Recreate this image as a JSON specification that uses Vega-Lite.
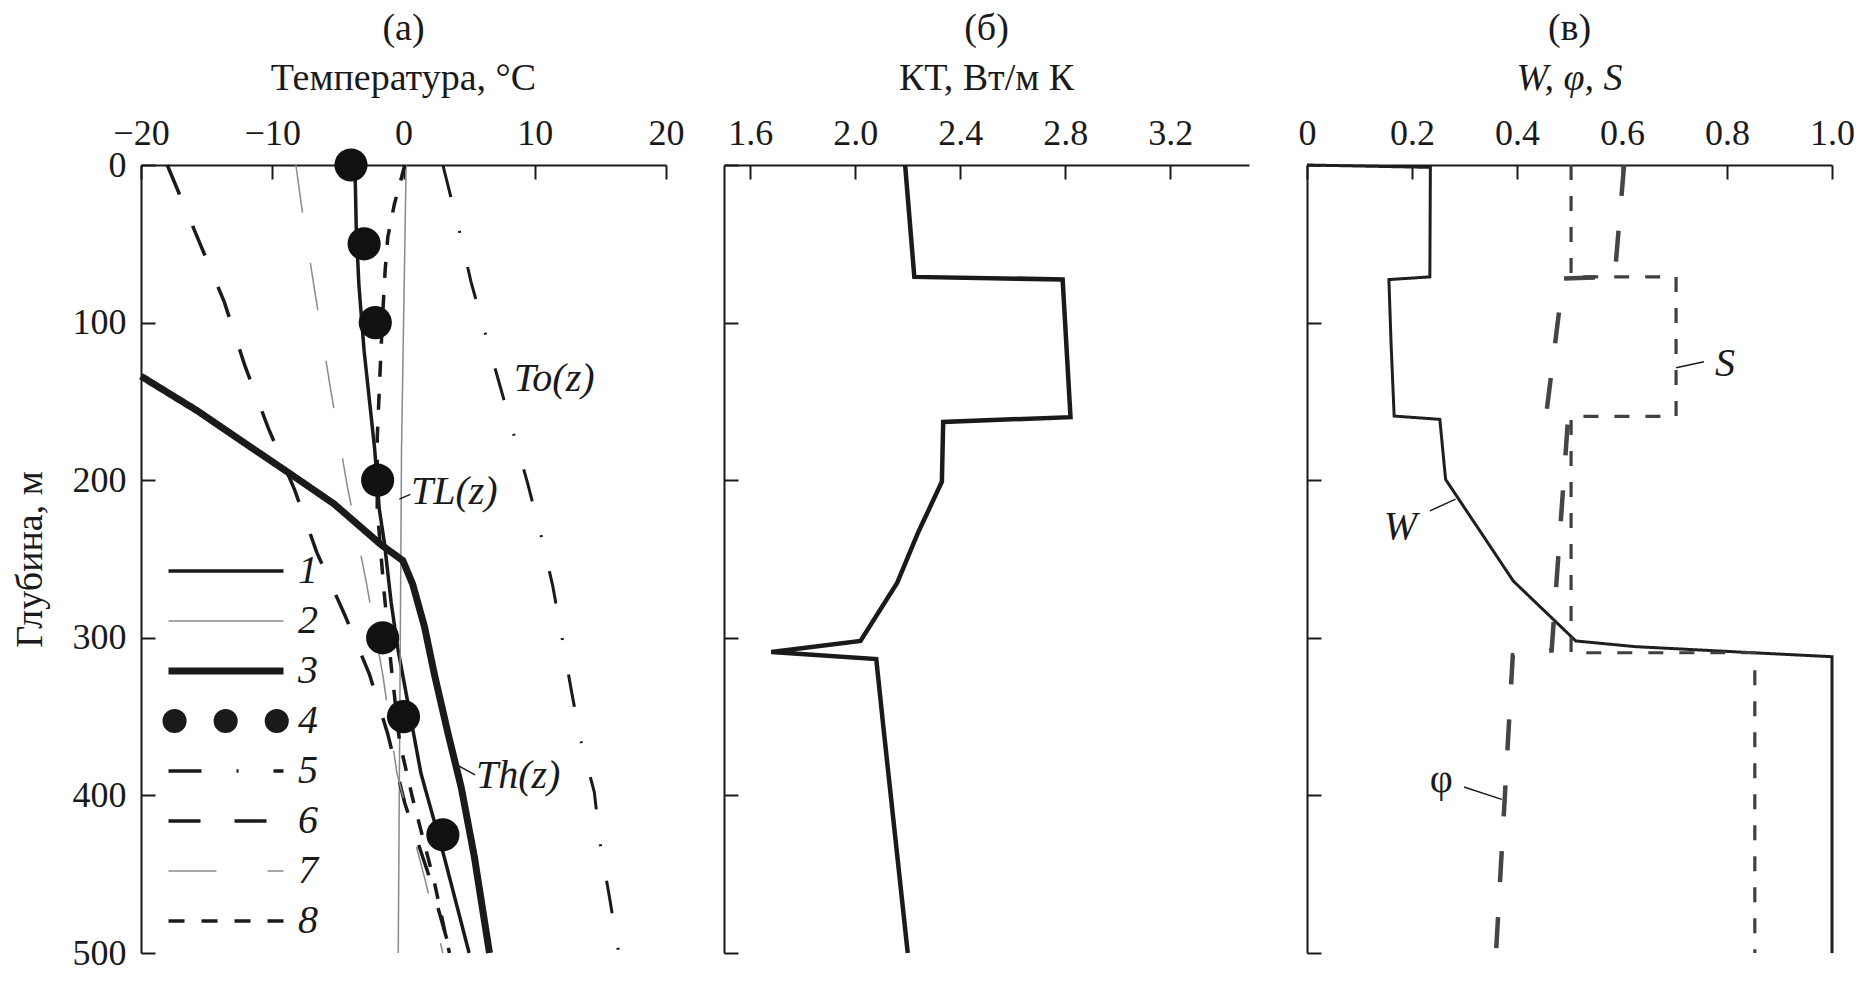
{
  "$schema": "https://vega.github.io/schema/vega-lite/v6.json",
  "background": "white",
  "padding": {"left": 11, "top": 10, "right": 0, "bottom": 0},
  "spacing": 58,
  "bounds": "flush",
  "resolve": {"scale": {"color": "independent", "strokeDash": "independent"}, "legend": {"color": "independent", "strokeDash": "independent"}},
  "config": {
    "font": "Liberation Serif",
    "view": {"stroke": null},
    "axis": {"domainColor": "#1a1a1a", "domainWidth": 2, "tickColor": "#1a1a1a", "tickWidth": 2, "tickSize": -14, "labelFont": "Liberation Serif", "labelFontSize": 36, "labelColor": "#1a1a1a", "grid": false, "labelFlush": false, "labelOverlap": false, "titleFont": "Liberation Serif", "titleFontSize": 38, "titleFontWeight": "normal", "titleColor": "#1a1a1a"},
    "axisX": {"labelPadding": 27},
    "axisY": {"labelPadding": 29},
    "title": {"font": "Liberation Serif", "fontSize": 38, "fontWeight": "normal", "color": "#1a1a1a", "subtitleFont": "Liberation Serif", "subtitleFontSize": 38, "subtitleColor": "#1a1a1a", "subtitlePadding": 12, "offset": 17, "anchor": "middle"}
  },
  "datasets": {
    "a": [
      {"s": "1", "T": -3.7, "z": 0}, {"s": "1", "T": -3.6, "z": 40}, {"s": "1", "T": -3.4, "z": 76}, {"s": "1", "T": -3.0, "z": 118}, {"s": "1", "T": -2.2, "z": 180}, {"s": "1", "T": -1.85, "z": 218}, {"s": "1", "T": -1.45, "z": 240}, {"s": "1", "T": -0.95, "z": 277}, {"s": "1", "T": -0.45, "z": 306}, {"s": "1", "T": 1.33, "z": 386}, {"s": "1", "T": 3.1, "z": 439}, {"s": "1", "T": 5.0, "z": 500},
      {"s": "2", "T": 0.2, "z": 0}, {"s": "2", "T": -0.15, "z": 180}, {"s": "2", "T": -0.4, "z": 500},
      {"s": "3", "T": -20, "z": 134}, {"s": "3", "T": -15.7, "z": 156}, {"s": "3", "T": -12, "z": 177}, {"s": "3", "T": -8.8, "z": 195}, {"s": "3", "T": -5.3, "z": 215}, {"s": "3", "T": -1.7, "z": 241}, {"s": "3", "T": -0.05, "z": 251}, {"s": "3", "T": 0.7, "z": 266}, {"s": "3", "T": 1.6, "z": 293}, {"s": "3", "T": 2.35, "z": 323}, {"s": "3", "T": 3.4, "z": 361}, {"s": "3", "T": 4.4, "z": 395}, {"s": "3", "T": 5.4, "z": 439}, {"s": "3", "T": 6.55, "z": 500},
      {"s": "5", "T": 3.0, "z": 0}, {"s": "5", "T": 4.26, "z": 42}, {"s": "5", "T": 5.14, "z": 74}, {"s": "5", "T": 6.2, "z": 106}, {"s": "5", "T": 7.28, "z": 138}, {"s": "5", "T": 8.37, "z": 170}, {"s": "5", "T": 9.46, "z": 202}, {"s": "5", "T": 10.48, "z": 235}, {"s": "5", "T": 11.37, "z": 267}, {"s": "5", "T": 12.08, "z": 300}, {"s": "5", "T": 12.8, "z": 334}, {"s": "5", "T": 13.5, "z": 365}, {"s": "5", "T": 14.54, "z": 398}, {"s": "5", "T": 14.97, "z": 430}, {"s": "5", "T": 15.7, "z": 465}, {"s": "5", "T": 16.4, "z": 500},
      {"s": "6", "T": -18.0, "z": 0}, {"s": "6", "T": -15.6, "z": 48}, {"s": "6", "T": -13.65, "z": 87}, {"s": "6", "T": -12.1, "z": 127}, {"s": "6", "T": -10.3, "z": 167}, {"s": "6", "T": -8.3, "z": 206}, {"s": "6", "T": -6.6, "z": 246}, {"s": "6", "T": -4.5, "z": 285}, {"s": "6", "T": -2.6, "z": 323}, {"s": "6", "T": -1.2, "z": 361}, {"s": "6", "T": 0.1, "z": 405}, {"s": "6", "T": 1.9, "z": 450}, {"s": "6", "T": 3.6, "z": 500},
      {"s": "7", "T": -8.2, "z": 0}, {"s": "7", "T": -7.7, "z": 30}, {"s": "7", "T": -6.8, "z": 78}, {"s": "7", "T": -5.6, "z": 140}, {"s": "7", "T": -4.3, "z": 203}, {"s": "7", "T": -2.85, "z": 264}, {"s": "7", "T": -1.55, "z": 325}, {"s": "7", "T": -0.5, "z": 386}, {"s": "7", "T": 1.6, "z": 452}, {"s": "7", "T": 3.0, "z": 500},
      {"s": "8", "T": 0.1, "z": 0}, {"s": "8", "T": -0.7, "z": 25}, {"s": "8", "T": -1.2, "z": 46}, {"s": "8", "T": -1.4, "z": 67}, {"s": "8", "T": -1.6, "z": 97}, {"s": "8", "T": -1.8, "z": 134}, {"s": "8", "T": -2.0, "z": 173}, {"s": "8", "T": -2.0, "z": 218}, {"s": "8", "T": -1.5, "z": 269}, {"s": "8", "T": -0.95, "z": 317}, {"s": "8", "T": -0.3, "z": 366}, {"s": "8", "T": 0.7, "z": 402}, {"s": "8", "T": 2.35, "z": 455}, {"s": "8", "T": 3.5, "z": 500}
    ],
    "dots": [
      {"T": -4.0, "z": 0}, {"T": -3.0, "z": 50}, {"T": -2.15, "z": 100}, {"T": -1.97, "z": 200}, {"T": -1.59, "z": 300}, {"T": 0.0, "z": 350}, {"T": 3.0, "z": 425}
    ],
    "annA": [
      {"lab": "To(z)", "T": 8.4, "z": 143.5},
      {"lab": "TL(z)", "T": 0.57, "z": 215},
      {"lab": "Th(z)", "T": 5.52, "z": 395}
    ],
    "leadA": [
      {"T": -0.32, "z": 212, "T2": 0.52, "z2": 209},
      {"T": 4.13, "z": 381, "T2": 5.45, "z2": 387}
    ],
    "b": [
      {"kt": 2.19, "z": 0}, {"kt": 2.225, "z": 71}, {"kt": 2.79, "z": 72.6}, {"kt": 2.82, "z": 160}, {"kt": 2.335, "z": 163}, {"kt": 2.33, "z": 201}, {"kt": 2.24, "z": 233}, {"kt": 2.16, "z": 265}, {"kt": 2.02, "z": 302}, {"kt": 1.68, "z": 309}, {"kt": 2.08, "z": 313.5}, {"kt": 2.11, "z": 361}, {"kt": 2.2, "z": 500}
    ],
    "c": [
      {"s": "W", "k": 1, "v": 0, "z": 0}, {"s": "W", "k": 2, "v": 0.235, "z": 1.5}, {"s": "W", "k": 3, "v": 0.234, "z": 71}, {"s": "W", "k": 4, "v": 0.156, "z": 72.7}, {"s": "W", "k": 5, "v": 0.16, "z": 112}, {"s": "W", "k": 6, "v": 0.166, "z": 159.3}, {"s": "W", "k": 7, "v": 0.253, "z": 161.4}, {"s": "W", "k": 8, "v": 0.264, "z": 199.5}, {"s": "W", "k": 9, "v": 0.393, "z": 264}, {"s": "W", "k": 10, "v": 0.512, "z": 302}, {"s": "W", "k": 11, "v": 0.625, "z": 305.6}, {"s": "W", "k": 12, "v": 0.85, "z": 309.5}, {"s": "W", "k": 13, "v": 1.0, "z": 312}, {"s": "W", "k": 14, "v": 1.0, "z": 500},
      {"s": "phi", "k": 1, "v": 0.604, "z": 0}, {"s": "phi", "k": 2, "v": 0.586, "z": 71}, {"s": "phi", "k": 3, "v": 0.488, "z": 72}, {"s": "phi", "k": 4, "v": 0.455, "z": 160}, {"s": "phi", "k": 5, "v": 0.497, "z": 162}, {"s": "phi", "k": 6, "v": 0.466, "z": 308}, {"s": "phi", "k": 7, "v": 0.392, "z": 311}, {"s": "phi", "k": 8, "v": 0.36, "z": 500},
      {"s": "S", "k": 1, "v": 0.503, "z": 0}, {"s": "S", "k": 2, "v": 0.503, "z": 71}, {"s": "S", "k": 3, "v": 0.703, "z": 71}, {"s": "S", "k": 4, "v": 0.703, "z": 159.5}, {"s": "S", "k": 5, "v": 0.503, "z": 159.5}, {"s": "S", "k": 6, "v": 0.503, "z": 309.5}, {"s": "S", "k": 7, "v": 0.853, "z": 309.5}, {"s": "S", "k": 8, "v": 0.853, "z": 500}
    ],
    "annCi": [
      {"lab": "S", "v": 0.777, "z": 134},
      {"lab": "W", "v": 0.146, "z": 237.5}
    ],
    "annCu": [
      {"lab": "φ", "v": 0.234, "z": 398}
    ],
    "leadC": [
      {"v": 0.703, "z": 128.6, "v2": 0.756, "z2": 124.8},
      {"v": 0.234, "z": 219.5, "v2": 0.283, "z2": 212},
      {"v": 0.299, "z": 394.7, "v2": 0.371, "z2": 402.5}
    ]
  },
  "hconcat": [
    {
      "width": 525,
      "height": 788,
      "title": {"text": "(а)", "subtitle": "Температура, °C"},
      "encoding": {
        "x": {"field": "T", "type": "quantitative", "scale": {"domain": [-20, 20], "nice": false, "zero": false}, "axis": {"orient": "top", "values": [-20, -10, 0, 10, 20], "title": null}},
        "y": {"field": "z", "type": "quantitative", "scale": {"domain": [0, 500], "reverse": true, "nice": false, "zero": false}, "axis": {"orient": "left", "values": [0, 100, 200, 300, 400, 500], "title": "Глубина, м", "titlePadding": 23}}
      },
      "layer": [
        {
          "data": {"name": "a"},
          "mark": {"type": "line"},
          "encoding": {
            "color": {
              "field": "s", "type": "nominal",
              "scale": {"domain": ["1", "2", "3", "4", "5", "6", "7", "8"], "range": ["#1a1a1a", "#8a8a8a", "#1a1a1a", "#1a1a1a", "#1a1a1a", "#1a1a1a", "#8a8a8a", "#1a1a1a"]},
              "legend": {"title": null, "orient": "none", "legendX": 18, "legendY": 381, "padding": 0, "symbolType": "stroke", "symbolSize": 13225, "symbolOffset": 47, "clipHeight": 50, "rowPadding": 0, "labelOffset": 52, "labelFont": "Liberation Serif", "labelFontSize": 40, "labelFontStyle": "italic", "labelColor": "#1a1a1a",
                "encode": {"symbols": {"update": {
                  "strokeWidth": {"signal": "datum.value === '3' ? 7 : datum.value === '4' ? 24 : (datum.value === '2' || datum.value === '7') ? 1.5 : 3.5"},
                  "strokeCap": {"signal": "datum.value === '4' ? 'round' : 'butt'"},
                  "strokeDashOffset": {"signal": "datum.value === '4' ? -6 : 0"}
                }}}}
            },
            "strokeDash": {
              "field": "s", "type": "nominal",
              "scale": {"domain": ["1", "2", "3", "4", "5", "6", "7", "8"], "range": [[1, 0], [1, 0], [1, 0], [0.1, 51], [33, 35, 2, 35], [32, 34], [48, 51], [16, 17]]},
              "legend": {"title": null, "orient": "none", "legendX": 18, "legendY": 381, "padding": 0, "symbolType": "stroke", "symbolSize": 13225, "symbolOffset": 47, "clipHeight": 50, "rowPadding": 0, "labelOffset": 52, "labelFont": "Liberation Serif", "labelFontSize": 40, "labelFontStyle": "italic", "labelColor": "#1a1a1a",
                "encode": {"symbols": {"update": {
                  "strokeWidth": {"signal": "datum.value === '3' ? 7 : datum.value === '4' ? 24 : (datum.value === '2' || datum.value === '7') ? 1.5 : 3.5"},
                  "strokeCap": {"signal": "datum.value === '4' ? 'round' : 'butt'"},
                  "strokeDashOffset": {"signal": "datum.value === '4' ? -6 : 0"}
                }}}}
            },
            "strokeWidth": {"condition": [
              {"test": "datum.s === '3'", "value": 7},
              {"test": "datum.s === '2' || datum.s === '7'", "value": 1.5},
              {"test": "datum.s === '5'", "value": 3}
            ], "value": 3.5},
            "order": {"field": "z", "type": "quantitative"}
          }
        },
        {
          "data": {"name": "dots"},
          "mark": {"type": "point", "filled": true, "shape": "circle", "size": 1100, "opacity": 1, "color": "#111111", "strokeWidth": 0}
        },
        {
          "data": {"name": "annA"},
          "mark": {"type": "text", "align": "left", "baseline": "alphabetic", "font": "Liberation Serif", "fontSize": 40, "fontStyle": "italic", "color": "#1a1a1a"},
          "encoding": {"text": {"field": "lab", "type": "nominal"}}
        },
        {
          "data": {"name": "leadA"},
          "mark": {"type": "rule", "strokeWidth": 1.5, "color": "#1a1a1a"},
          "encoding": {"x2": {"field": "T2"}, "y2": {"field": "z2"}}
        }
      ]
    },
    {
      "width": 525,
      "height": 788,
      "title": {"text": "(б)", "subtitle": "КТ, Вт/м К"},
      "data": {"name": "b"},
      "mark": {"type": "line", "strokeWidth": 4.5, "color": "#1a1a1a"},
      "encoding": {
        "x": {"field": "kt", "type": "quantitative", "scale": {"domain": [1.5, 3.5], "nice": false, "zero": false}, "axis": {"orient": "top", "values": [1.6, 2.0, 2.4, 2.8, 3.2], "format": ".1f", "title": null}},
        "y": {"field": "z", "type": "quantitative", "scale": {"domain": [0, 500], "reverse": true, "nice": false, "zero": false}, "axis": {"orient": "left", "values": [0, 100, 200, 300, 400, 500], "labels": false, "title": null}},
        "order": {"field": "z", "type": "quantitative"}
      }
    },
    {
      "width": 525,
      "height": 788,
      "title": {"text": "(в)", "subtitle": "W, φ, S", "subtitleFontStyle": "italic"},
      "encoding": {
        "x": {"field": "v", "type": "quantitative", "scale": {"domain": [0, 1], "nice": false, "zero": false}, "axis": {"orient": "top", "values": [0, 0.2, 0.4, 0.6, 0.8, 1.0], "labelExpr": "datum.value == 0 ? '0' : format(datum.value, '.1f')", "title": null}},
        "y": {"field": "z", "type": "quantitative", "scale": {"domain": [0, 500], "reverse": true, "nice": false, "zero": false}, "axis": {"orient": "left", "values": [0, 100, 200, 300, 400, 500], "labels": false, "title": null}}
      },
      "layer": [
        {
          "data": {"name": "c"},
          "mark": {"type": "line"},
          "encoding": {
            "color": {"field": "s", "type": "nominal", "scale": {"domain": ["W", "phi", "S"], "range": ["#1f1f1f", "#454545", "#404040"]}, "legend": null},
            "strokeDash": {"field": "s", "type": "nominal", "scale": {"domain": ["W", "phi", "S"], "range": [[1, 0], [31, 35], [15, 16]]}, "legend": null},
            "strokeWidth": {"condition": [
              {"test": "datum.s === 'phi'", "value": 4.5},
              {"test": "datum.s === 'S'", "value": 3.2}
            ], "value": 3},
            "order": {"field": "k", "type": "quantitative"}
          }
        },
        {
          "data": {"name": "annCi"},
          "mark": {"type": "text", "align": "left", "baseline": "alphabetic", "font": "Liberation Serif", "fontSize": 40, "fontStyle": "italic", "color": "#1a1a1a"},
          "encoding": {"text": {"field": "lab", "type": "nominal"}}
        },
        {
          "data": {"name": "annCu"},
          "mark": {"type": "text", "align": "left", "baseline": "alphabetic", "font": "Liberation Serif", "fontSize": 40, "color": "#1a1a1a"},
          "encoding": {"text": {"field": "lab", "type": "nominal"}}
        },
        {
          "data": {"name": "leadC"},
          "mark": {"type": "rule", "strokeWidth": 1.5, "color": "#1a1a1a"},
          "encoding": {"x2": {"field": "v2"}, "y2": {"field": "z2"}}
        }
      ]
    }
  ]
}
